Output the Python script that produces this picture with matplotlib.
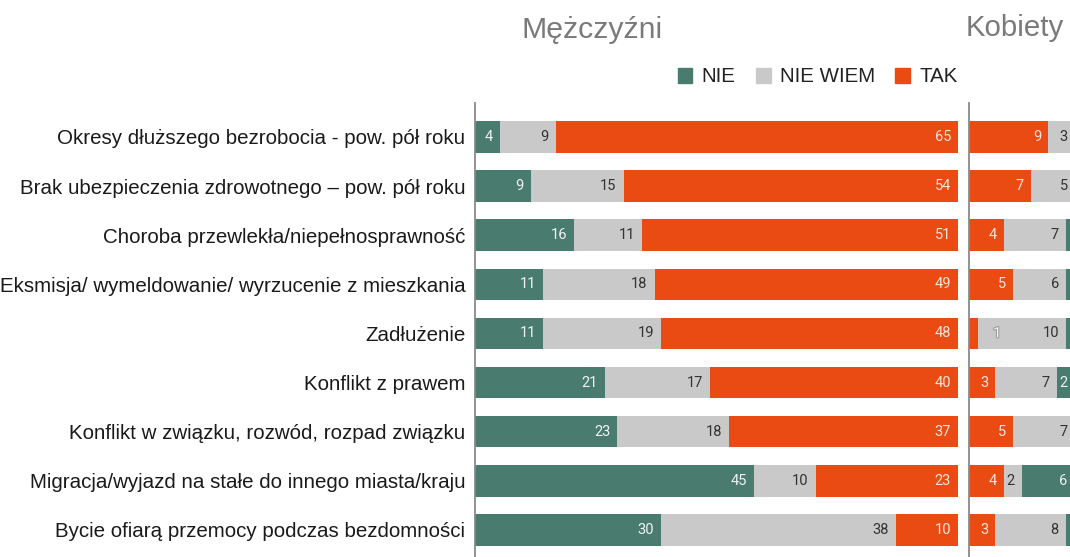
import matplotlib.pyplot as plt
from matplotlib.patches import Patch
import matplotlib.patheffects as pe

# Chart data: two panels, men (Mężczyźni) and women (Kobiety)
categories = [
    "Okresy dłuższego bezrobocia - pow. pół roku",
    "Brak ubezpieczenia zdrowotnego – pow. pół roku",
    "Choroba przewlekła/niepełnosprawność",
    "Eksmisja/ wymeldowanie/ wyrzucenie z mieszkania",
    "Zadłużenie",
    "Konflikt z prawem",
    "Konflikt w związku, rozwód, rozpad związku",
    "Migracja/wyjazd na stałe do innego miasta/kraju",
    "Bycie ofiarą przemocy podczas bezdomności",
]
m_nie = [4, 9, 16, 11, 11, 21, 23, 45, 30]
m_niewiem = [9, 15, 11, 18, 19, 17, 18, 10, 38]
m_tak = [65, 54, 51, 49, 48, 40, 37, 23, 10]

k_tak = [9, 7, 4, 5, 1, 3, 5, 4, 3]
k_niewiem = [3, 5, 7, 6, 10, 7, 7, 2, 8]
k_nie = [0, 0, 1, 1, 1, 2, 0, 6, 1]

legend_labels = ["NIE", "NIE WIEM", "TAK"]

GREEN = "#4a7b6f"
GREY = "#c9c9c9"
ORANGE = "#e94b12"

W, H = 1070, 557
fig = plt.figure(figsize=(W / 100, H / 100), dpi=100)
plt.rcParams["font.family"] = ["Liberation Sans", "DejaVu Sans"]


def px_axes(x0, y0, x1, y1):
    return fig.add_axes([x0 / W, 1 - y1 / H, (x1 - x0) / W, (y1 - y0) / H])


def draw_stack(ax, series, colors, textcolors):
    left = [0] * len(categories)
    ypos = list(range(len(categories)))
    for k, (vals, col, tcol) in enumerate(zip(series, colors, textcolors)):
        ax.barh(ypos, vals, left=left, color=col, height=0.64)
        for i, v in enumerate(vals):
            if v == 0:
                continue
            end = left[i] + v
            if v < 2:
                # too narrow: label goes just after the segment (only for first segment)
                if k == 0:
                    t = ax.annotate(str(v), (end, i), xytext=(11, 0), textcoords="offset points",
                                    ha="left", va="center", fontsize=10.5, color="#f4f4f4",
                                    family="Roboto")
                    t.set_path_effects([pe.withStroke(linewidth=1.5, foreground="#999999")])
            else:
                ax.annotate(str(v), (end, i), xytext=(-5, 0), textcoords="offset points",
                            ha="right", va="center", fontsize=10.5, color=tcol,
                            family="Roboto")
        left = [a + b for a, b in zip(left, vals)]
    ax.set_ylim(8.55, -0.69)
    for s in ["top", "right", "bottom"]:
        ax.spines[s].set_visible(False)
    ax.spines["left"].set_color("#8a8a8a")
    ax.spines["left"].set_linewidth(1.3)
    ax.set_xticks([])
    ax.tick_params(axis="y", length=0)


# Men panel
axm = px_axes(475, 103, 958, 557)
draw_stack(axm, [m_nie, m_niewiem, m_tak], [GREEN, GREY, ORANGE],
           ["#eef3f1", "#333333", "#fbe3d9"])
axm.set_xlim(0, 78)
axm.set_yticks(range(len(categories)))
axm.set_yticklabels(categories, fontsize=14.75, color="#1a1a1a")
axm.tick_params(axis="y", pad=7)

# Women panel (cut off at right edge)
axk = px_axes(969, 103, 969 + 12 * 8.8, 557)
draw_stack(axk, [k_tak, k_niewiem, k_nie], [ORANGE, GREY, GREEN],
           ["#fbe3d9", "#333333", "#eef3f1"])
axk.set_xlim(0, 12)
axk.set_yticks([])

fig.text(592 / W, 1 - 30 / H, "Mężczyźni", ha="center", va="center",
         fontsize=21.8, color="#7a7a7a")
fig.text(1015 / W, 1 - 28 / H, "Kobiety", ha="center", va="center",
         fontsize=21.2, color="#7a7a7a")

handles = [Patch(color=c) for c in [GREEN, GREY, ORANGE]]
fig.legend(handles, legend_labels, loc="center right", ncol=3,
           bbox_to_anchor=(976 / W, 1 - 77 / H), frameon=False, fontsize=14.8,
           handlelength=0.7, handleheight=0.7, handletextpad=0.45,
           columnspacing=1.0, labelcolor="#222222")

fig.savefig("out.png", dpi=100, facecolor="white")
